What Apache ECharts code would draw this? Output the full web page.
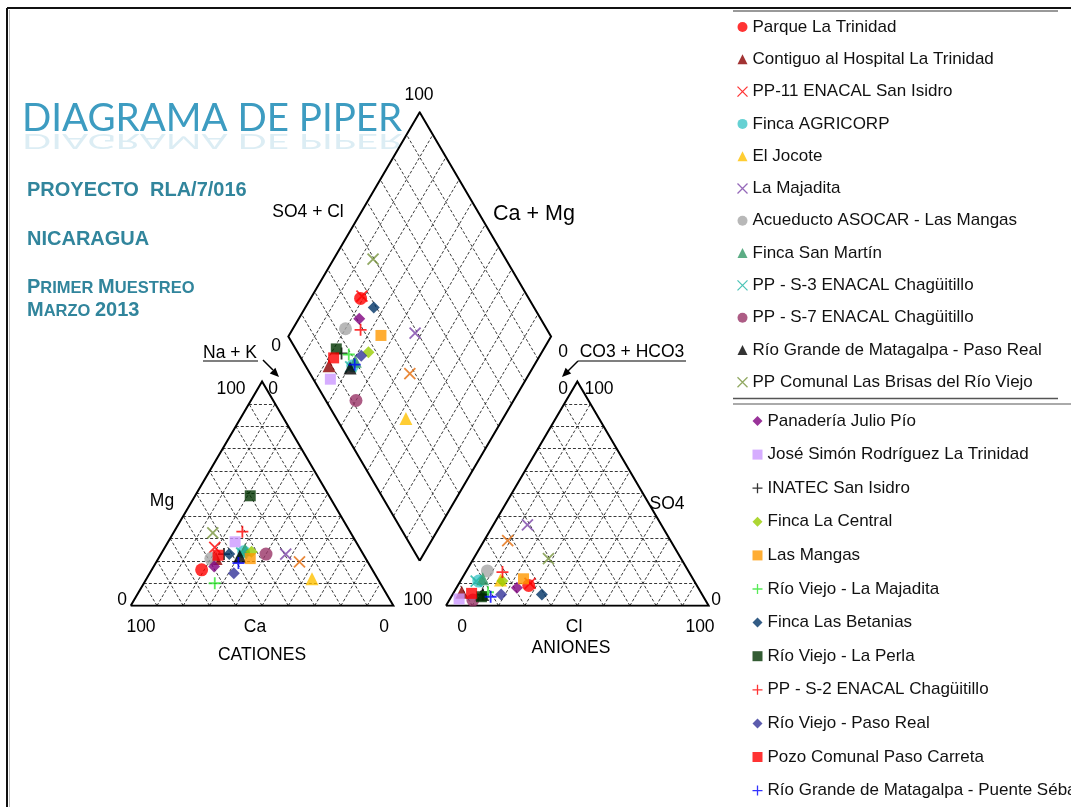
<!DOCTYPE html>
<html>
<head>
<meta charset="utf-8">
<title>Diagrama de Piper</title>
<script src="https://cdn.jsdelivr.net/npm/echarts@6/dist/echarts.min.js"></script>
<style>
html, body { margin: 0; padding: 0; background: #fff; }
#main { width: 1071px; height: 807px; }
</style>
</head>
<body>
<div id="main"></div>
<script>
// muestras (meq %): Ca, Mg en cationes; Cl, SO4 en aniones
var samples = ['Parque La Trinidad', 'Contiguo al Hospital La Trinidad', 'PP-11 ENACAL San Isidro',
  'Finca AGRICORP', 'El Jocote', 'La Majadita', 'Acueducto ASOCAR - Las Mangas', 'Finca San Martín',
  'PP - S-3 ENACAL Chagüitillo', 'PP - S-7 ENACAL Chagüitillo', 'Río Grande de Matagalpa - Paso Real',
  'PP Comunal Las Brisas del Río Viejo', 'Panadería Julio Pío', 'José Simón Rodríguez La Trinidad',
  'INATEC San Isidro', 'Finca La Central', 'Las Mangas', 'Río Viejo - La Majadita', 'Finca Las Betanias',
  'Río Viejo - La Perla', 'PP - S-2 ENACAL Chagüitillo', 'Río Viejo - Paso Real',
  'Pozo Comunal Paso Carreta', 'Río Grande de Matagalpa - Puente Sébaco', 'Otra muestra'];
var ca  = [65, 57, 55, 45, 25, 29.5, 59, 44, 46, 37, 47.5, 52.5, 59.5, 46, 53, 42, 44, 63, 51, 30, 41, 53.5, 55.5, 49.5, 26];
var mg  = [16, 21, 26, 24, 12, 23, 21, 25, 23.5, 23, 22, 32.5, 17.5, 28.5, 23, 24, 21, 10, 23, 49, 33, 14.5, 22.5, 19, 19.5];
var cl  = [27, 3, 27, 7, 15, 13, 8, 8, 6, 9, 11.5, 28.5, 23, 3.5, 11.5, 16, 23.5, 13, 34, 11.5, 14, 18.5, 7, 15, 9];
var so4 = [9, 6, 10, 11, 11.5, 36, 15.5, 12, 11, 2.5, 5, 21, 8, 3, 5, 11, 12, 6, 5, 4, 15, 5, 5.5, 4, 29];

// estilo de cada muestra
var markColors = ['#ff0000', '#8b0000', '#ff0000', '#3fc6c8', '#ffc000', '#7b44a8', '#a6a6a6', '#339966',
  '#1fb5a5', '#993366', '#000000', '#77933c', '#800080', '#cc99ff', '#000000', '#99cc00', '#ff9900',
  '#2ee62e', '#003366', '#003300', '#ff0000', '#333399', '#ff0000', '#0000ff', '#e46c0a'];
var markShapes = ['circle', 'triangle', 'x', 'circle', 'triangle', 'x', 'circle', 'triangle', 'x', 'circle',
  'triangle', 'x', 'diamond', 'square', 'plus', 'diamond', 'square', 'plus', 'diamond', 'square', 'plus',
  'diamond', 'square', 'plus', 'x'];

var H = Math.sqrt(3) / 2;
var GAP = 20;

function cationXY(c, m) {
  var n = 100 - c - m;
  return [n + m / 2, m * H];
}
function anionXY(l, s) {
  return [100 + GAP + l + s / 2, s * H];
}
function diamondXY(c, m, l, s) {
  var u = (l + s) / 100, v = (c + m) / 100;
  return [100 + GAP / 2 + 50 * (u - v), GAP * H + 100 * H * (u + v)];
}

// trazado de la rejilla
function triGrid(x0) {
  var segs = [];
  for (var t = 10; t < 100; t += 10) {
    segs.push({coords: [[x0 + t / 2, t * H], [x0 + 100 - t / 2, t * H]]});
    segs.push({coords: [[x0 + t, 0], [x0 + t + (100 - t) / 2, (100 - t) * H]]});
    segs.push({coords: [[x0 + 100 - t, 0], [x0 + (100 - t) / 2, (100 - t) * H]]});
  }
  return segs;
}
function diamondGrid() {
  var segs = [];
  var bx = 100 + GAP / 2, by = GAP * H;
  for (var t = 10; t < 100; t += 10) {
    var f = t / 100;
    segs.push({coords: [[bx + 50 * f, by + 100 * H * f], [bx + 50 * f - 50, by + 100 * H * f + 100 * H]]});
    segs.push({coords: [[bx - 50 * f, by + 100 * H * f], [bx - 50 * f + 50, by + 100 * H * f + 100 * H]]});
  }
  return segs;
}
var outlines = [
  {coords: [[0, 0], [100, 0], [50, 100 * H], [0, 0]]},
  {coords: [[120, 0], [220, 0], [170, 100 * H], [120, 0]]},
  {coords: [[110, 20 * H], [160, 120 * H], [110, 220 * H], [60, 120 * H], [110, 20 * H]]}
];

var PATH_X = 'path://M0,0L10,10M10,0L0,10';
var PATH_PLUS = 'path://M5,0L5,10M0,5L10,5';

function symbolOf(shape) {
  if (shape === 'x') return PATH_X;
  if (shape === 'plus') return PATH_PLUS;
  if (shape === 'square') return 'rect';
  return shape;
}
function sizeOf(shape) {
  if (shape === 'circle') return 13;
  if (shape === 'triangle') return 13;
  if (shape === 'square') return 11;
  if (shape === 'diamond') return 12;
  if (shape === 'plus') return 12;
  return 11;
}
function styleOf(i, legend) {
  var s = markShapes[i];
  if (s === 'x' || s === 'plus') {
    return {color: 'none', borderColor: markColors[i], borderWidth: legend ? 1.3 : 1.8};
  }
  return {color: markColors[i], borderWidth: 0};
}

var series = [
  {type: 'lines', coordinateSystem: 'cartesian2d', silent: true, z: 1,
   lineStyle: {color: '#222', width: 0.9, type: [3, 2], opacity: 1},
   data: triGrid(0).concat(triGrid(120)).concat(diamondGrid())},
  {type: 'lines', coordinateSystem: 'cartesian2d', polyline: true, silent: true, z: 2,
   lineStyle: {color: '#000', width: 2, opacity: 1}, data: outlines}
];
samples.forEach(function (name, i) {
  series.push({
    type: 'scatter', name: name, z: 3 + i, clip: false,
    symbol: symbolOf(markShapes[i]), symbolSize: sizeOf(markShapes[i]),
    itemStyle: styleOf(i, false),
    data: [cationXY(ca[i], mg[i]), anionXY(cl[i], so4[i]), diamondXY(ca[i], mg[i], cl[i], so4[i])]
  });
});

function legendItems(from, to) {
  var out = [];
  for (var i = from; i < to; i++) {
    out.push({name: samples[i], icon: symbolOf(markShapes[i]), itemStyle: styleOf(i, true)});
  }
  return out;
}
var legendText = {fontSize: 17, fontFamily: 'Liberation Sans', color: '#111', lineHeight: 18};

function txt(x, y, s, size, extra) {
  var st = {text: s, fontSize: size, fontFamily: 'Liberation Sans', fill: '#000', align: 'center', verticalAlign: 'middle'};
  for (var k in extra) st[k] = extra[k];
  return {type: 'text', x: x, y: y, style: st, z: 10};
}
function seg(x1, y1, x2, y2, color, w) {
  return {type: 'line', shape: {x1: x1, y1: y1, x2: x2, y2: y2}, style: {stroke: color, lineWidth: w}, z: 10};
}
function head(points) {
  return {type: 'polygon', shape: {points: points}, style: {fill: '#000'}, z: 10};
}

var TEAL = '#31859c';
var TITLE = '#3d9cc1';
var smallCaps = {
  b: {fontSize: 20, fontWeight: 'bold', fontFamily: 'Liberation Sans', fill: TEAL, verticalAlign: 'bottom'},
  s: {fontSize: 16.5, fontWeight: 'bold', fontFamily: 'Liberation Sans', fill: TEAL, verticalAlign: 'bottom'}
};
var LBL = 17.5;

var graphics = [
  // marco
  seg(7, 8, 1071, 8, '#111', 2),
  seg(7, 8, 7, 807, '#111', 2),
  seg(9.5, 10, 9.5, 807, '#bbb', 1),
  // separadores de la leyenda
  seg(733, 11, 1058, 11, '#999', 2),
  seg(733, 398.5, 1058, 398.5, '#555', 1.5),
  seg(733, 404, 1071, 404, '#aaa', 2),
  // titulo
  {type: 'text', x: 22, y: 119, z: 10, style: {text: 'DIAGRAMA DE PIPER', fontSize: 38.5, fontFamily: 'Lato',
    fill: TITLE, align: 'left', verticalAlign: 'middle'}},
  {type: 'text', x: 22, y: 141, scaleY: -0.55, z: 9, style: {text: 'DIAGRAMA DE PIPER', fontSize: 38.5, fontFamily: 'Lato',
    fill: TITLE, opacity: 0.18, align: 'left', verticalAlign: 'middle'}},
  txt(27, 190, 'PROYECTO  RLA/7/016', 20, {fontWeight: 'bold', fill: TEAL, align: 'left'}),
  txt(27, 239, 'NICARAGUA', 20, {fontWeight: 'bold', fill: TEAL, align: 'left'}),
  {type: 'text', x: 27, y: 287, z: 10, style: {text: '{b|P}{s|RIMER }{b|M}{s|UESTREO}', align: 'left',
    verticalAlign: 'middle', rich: smallCaps}},
  {type: 'text', x: 27, y: 310, z: 10, style: {text: '{b|M}{s|ARZO }{b|2013}', align: 'left',
    verticalAlign: 'middle', rich: smallCaps}},
  // rombo
  txt(419, 95, '100', LBL),
  txt(308, 212, 'SO4 + Cl', LBL),
  txt(534, 214, 'Ca + Mg', 21.5),
  txt(276, 346, '0', LBL),
  txt(563, 352, '0', LBL),
  // flechas
  txt(230, 353, 'Na + K', LBL),
  seg(203, 361, 258, 361, '#000', 1.2),
  seg(263, 360, 273, 370, '#000', 1.5),
  head([[279, 377], [269.8, 373.4], [275.4, 367.8]]),
  txt(632, 352, 'CO3 + HCO3', LBL),
  seg(578, 361, 686, 361, '#000', 1.2),
  seg(578, 361, 568, 371, '#000', 1.5),
  head([[562, 377], [571.2, 373.4], [565.6, 367.8]]),
  // triangulo de cationes
  txt(231, 389, '100', LBL),
  txt(273, 389, '0', LBL),
  txt(162, 501, 'Mg', LBL),
  txt(122, 600, '0', LBL),
  txt(141, 627, '100', LBL),
  txt(255, 627, 'Ca', LBL),
  txt(384, 627, '0', LBL),
  txt(262, 655, 'CATIONES', LBL),
  // triangulo de aniones
  txt(563, 389, '0', LBL),
  txt(599, 389, '100', LBL),
  txt(667, 504, 'SO4', LBL),
  txt(418, 600, '100', LBL),
  txt(716, 600, '0', LBL),
  txt(462, 627, '0', LBL),
  txt(574, 627, 'Cl', LBL),
  txt(700, 627, '100', LBL),
  txt(571, 648, 'ANIONES', LBL)
];

var chart = echarts.init(document.getElementById('main'));
chart.setOption({
  backgroundColor: '#fff',
  animation: false,
  grid: {left: 130.7, top: 112.3, width: 578, height: 493.4},
  xAxis: {type: 'value', min: 0, max: 220, show: false},
  yAxis: {type: 'value', min: 0, max: 220 * H, show: false},
  legend: [
    {data: legendItems(0, 12), orient: 'vertical', left: 735, top: 18, height: 380, padding: 0,
     itemWidth: 10, itemHeight: 10, itemGap: 14.3, selectedMode: false, textStyle: legendText},
    {data: legendItems(12, 24), orient: 'vertical', left: 750, top: 412, height: 420, padding: 0,
     itemWidth: 10, itemHeight: 10, itemGap: 15.6, selectedMode: false, textStyle: legendText}
  ],
  graphic: graphics,
  series: series
});
</script>
</body>
</html>
